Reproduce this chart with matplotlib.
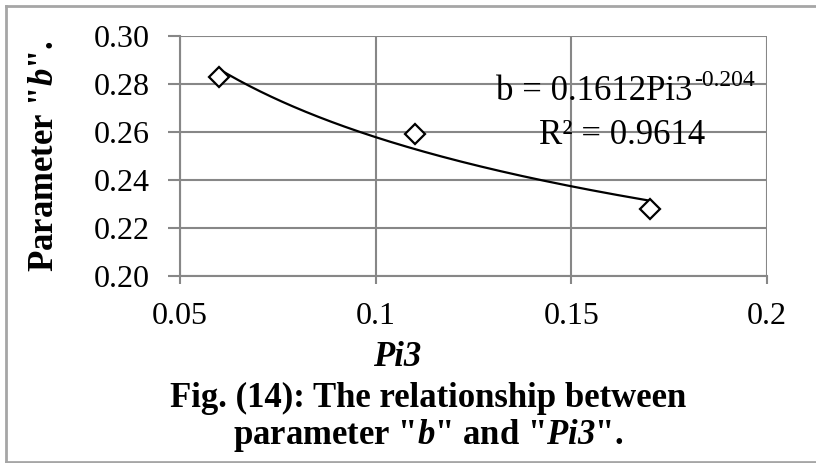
import numpy as np
import matplotlib.pyplot as plt
from matplotlib.lines import Line2D

plt.rcParams['font.family'] = 'Liberation Serif'
plt.rcParams['mathtext.fontset'] = 'custom'
plt.rcParams['mathtext.rm'] = 'Liberation Serif'
plt.rcParams['mathtext.it'] = 'Liberation Serif:italic'
plt.rcParams['mathtext.bf'] = 'Liberation Serif:bold'
plt.rcParams['mathtext.bfit'] = 'Liberation Serif:bold:italic'

# data
pi3 = [0.06, 0.11, 0.17]
b_param = [0.283, 0.259, 0.228]
# power trendline shown on the chart: b = coef * Pi3 ** expo
coef = 0.1612
expo = -0.204
r2 = 0.9614
xticks = [0.05, 0.1, 0.15, 0.2]
xtick_labels = ['0.05', '0.1', '0.15', '0.2']
yticks = [0.20, 0.22, 0.24, 0.26, 0.28, 0.30]
ytick_labels = ['0.20', '0.22', '0.24', '0.26', '0.28', '0.30']

W, H = 816, 463
fig = plt.figure(figsize=(W / 100, H / 100), dpi=100)
ax = fig.add_axes([180 / W, 1 - 276 / H, (767 - 180) / W, (276 - 36) / H])

gc = '#878787'
xfit = np.linspace(min(pi3), max(pi3), 200)
ax.plot(xfit, coef * xfit ** expo, color='black', lw=1.6, zorder=3)
ax.plot(pi3, b_param, ls='none', marker='D', ms=10.5, mfc='white',
        mec='black', mew=1.6, zorder=4)

ax.set_xlim(0.05, 0.2)
ax.set_ylim(0.20, 0.30)
ax.set_xticks(xticks)
ax.set_xticklabels(xtick_labels)
ax.set_yticks(yticks)
ax.set_yticklabels(ytick_labels)
ax.grid(True, color=gc, lw=1.5)
ax.set_axisbelow(True)
for s in ['top', 'right']:
    ax.spines[s].set_visible(False)
for s in ['left', 'bottom']:
    ax.spines[s].set_color(gc)
    ax.spines[s].set_linewidth(1.5)
ax.tick_params(axis='y', length=8.5, width=1.5, color=gc, pad=13, labelsize=23)
ax.tick_params(axis='x', length=6, width=1.5, color=gc, pad=13, labelsize=23)

t1 = ax.text(0.873, 0.735, 'b = %.4fPi3' % coef, transform=ax.transAxes,
             ha='right', va='baseline', fontsize=25)
ax.annotate('%.3f' % expo, xy=(1, 1), xycoords=t1, xytext=(1, 3),
            textcoords='offset points', ha='left', va='top', fontsize=17)
ax.text(0.895, 0.55, 'R² = %.4f' % r2, transform=ax.transAxes,
        ha='right', va='baseline', fontsize=25)

fig.text(45 / W, 1 - 156 / H, r'Parameter "$\mathbfit{b}$".', rotation=90,
         ha='center', va='center', fontsize=25, fontweight='bold')
fig.text(397 / W, 1 - 357 / H, 'Pi3', ha='center', va='center',
         fontsize=25, fontweight='bold', fontstyle='italic')
fig.text(428 / W, 1 - 398 / H, 'Fig. (14): The relationship between',
         ha='center', va='center', fontsize=25, fontweight='bold')
fig.text(428 / W, 1 - 435 / H, r'parameter "$\mathbfit{b}$" and "$\mathbfit{Pi3}$".',
         ha='center', va='center', fontsize=25, fontweight='bold')

# outer frame (left, top, bottom)
bc = '#a6a6a6'
fig.add_artist(Line2D([6 / W, 6 / W], [1 - 6 / H, 1 - 462 / H], color=bc, lw=2))
fig.add_artist(Line2D([6 / W, 1], [1 - 6 / H, 1 - 6 / H], color=bc, lw=2))
fig.add_artist(Line2D([6 / W, 1], [1 - 462 / H, 1 - 462 / H], color=bc, lw=2))

fig.savefig('out.png', dpi=100)
